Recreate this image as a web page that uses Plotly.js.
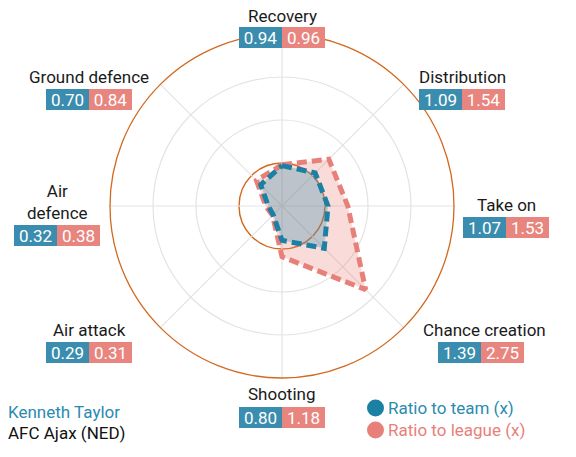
<!DOCTYPE html>
<html><head><meta charset="utf-8">
<script src="https://cdn.plot.ly/plotly-3.0.1.min.js"></script>
<style>body{margin:0;background:#fff}</style>
</head><body><div id="chart" style="width:576px;height:457px"></div>
<script>
// ---- data ----
const categories = ["Recovery", "Distribution", "Take on", "Chance creation", "Shooting", "Air attack", "Air defence", "Ground defence"];
const labelText = ["Recovery", "Distribution", "Take on", "Chance creation", "Shooting", "Air attack", "Air<br>defence", "Ground defence"];
const ratioTeam = [0.94, 1.09, 1.07, 1.39, 0.80, 0.29, 0.32, 0.70];
const ratioLeague = [0.96, 1.54, 1.53, 2.75, 1.18, 0.31, 0.38, 0.84];
const seriesNames = ["Ratio to team (x)", "Ratio to league (x)"];
const playerName = "Kenneth Taylor";
const clubName = "AFC Ajax (NED)";

// ---- layout (pixel positions of label blocks) ----
const W = 576, H = 457;
const cx = 282, cy = 206, R = 172, rMax = 4;
// [text center x, text center y, split x, box center y]
const labelPos = [
  [282, 16, 282, 37.5],
  [462, 77, 462, 99],
  [506, 205, 506, 227],
  [484, 330, 481, 352.5],
  [281, 394, 282, 417.5],
  [89, 330, 89, 352.5],
  [57, 202, 57, 235.5],
  [89, 77, 89, 99]
];
const teamColor = "#1b80a3", leagueColor = "#e8807a";
const teamBox = "#3a8dae", leagueBox = "#e8857f";
const orange = "#d2691e";
const px = x => x / W, py = y => 1 - y / H;

const close = a => a.concat([a[0]]);
const traces = [
  {type: "scatterpolar", r: close(ratioLeague), theta: close(categories), mode: "lines", fill: "toself",
   fillcolor: "rgba(232,128,122,0.28)", line: {color: leagueColor, width: 5, dash: "10px,5px"},
   name: seriesNames[1], showlegend: false, hoverinfo: "skip"},
  {type: "scatterpolar", r: close(ratioTeam), theta: close(categories), mode: "lines", fill: "toself",
   fillcolor: "rgba(26,128,160,0.27)", line: {color: teamColor, width: 5, dash: "10px,5px"},
   name: seriesNames[0], showlegend: false, hoverinfo: "skip"}
];

const annotations = [];
const fnt = {family: "Roboto, sans-serif", size: 17};
categories.forEach((c, i) => {
  const p = labelPos[i];
  annotations.push({xref: "paper", yref: "paper", x: px(p[0]), y: py(p[1]), xanchor: "center", yanchor: "middle",
    text: labelText[i], showarrow: false, font: Object.assign({color: "#1a1a1a"}, fnt)});
  annotations.push({xref: "paper", yref: "paper", x: px(p[2]), y: py(p[3]), xanchor: "right", yanchor: "middle",
    text: ratioTeam[i].toFixed(2), showarrow: false, bgcolor: teamBox, borderwidth: 0, borderpad: 0,
    width: 43, height: 21, font: Object.assign({color: "#ffffff"}, fnt)});
  annotations.push({xref: "paper", yref: "paper", x: px(p[2]), y: py(p[3]), xanchor: "left", yanchor: "middle",
    text: ratioLeague[i].toFixed(2), showarrow: false, bgcolor: leagueBox, borderwidth: 0, borderpad: 0,
    width: 43, height: 21, font: Object.assign({color: "#ffffff"}, fnt)});
});
// player / club
annotations.push({xref: "paper", yref: "paper", x: px(6), y: py(412), xanchor: "left", yanchor: "middle",
  text: playerName, showarrow: false, font: Object.assign({color: "#2a8bb0"}, fnt)});
annotations.push({xref: "paper", yref: "paper", x: px(6), y: py(433), xanchor: "left", yanchor: "middle",
  text: clubName, showarrow: false, font: Object.assign({color: "#111111"}, fnt)});
// legend
const legY = [408, 430], legCol = [teamColor, leagueColor];
const shapes = [
  {type: "circle", xref: "paper", yref: "paper", layer: "below",
   x0: px(cx - R / rMax), x1: px(cx + R / rMax), y0: py(cy + R / rMax), y1: py(cy - R / rMax),
   line: {color: orange, width: 1.4}, fillcolor: "rgba(0,0,0,0)"}
];
seriesNames.forEach((n, i) => {
  shapes.push({type: "circle", xref: "paper", yref: "paper", x0: px(367), x1: px(384), y0: py(legY[i] + 8.5), y1: py(legY[i] - 8.5),
    line: {width: 0}, fillcolor: legCol[i]});
  annotations.push({xref: "paper", yref: "paper", x: px(386), y: py(legY[i]), xanchor: "left", yanchor: "middle",
    text: n, showarrow: false, font: Object.assign({color: i === 0 ? "#2a8bb0" : "#e8807a"}, fnt)});
});

const layout = {
  width: W, height: H, margin: {l: 0, r: 0, t: 0, b: 0}, paper_bgcolor: "#fff",
  showlegend: false,
  font: {family: "Roboto, sans-serif"},
  polar: {
    domain: {x: [px(cx - R), px(cx + R)], y: [py(cy + R), py(cy - R)]},
    bgcolor: "rgba(0,0,0,0)",
    radialaxis: {range: [0, rMax], tickvals: [2, 3], showticklabels: false, ticks: "", showline: false,
      gridcolor: "#e3e3e3", gridwidth: 1.2},
    angularaxis: {type: "category", categoryarray: categories, direction: "clockwise", rotation: 90,
      showticklabels: false, ticks: "", showline: true, linecolor: orange, linewidth: 1.3,
      gridcolor: "#e3e3e3", gridwidth: 1.2}
  },
  annotations: annotations,
  shapes: shapes
};
Plotly.newPlot("chart", traces, layout, {displayModeBar: false, staticPlot: true});
</script></body></html>
